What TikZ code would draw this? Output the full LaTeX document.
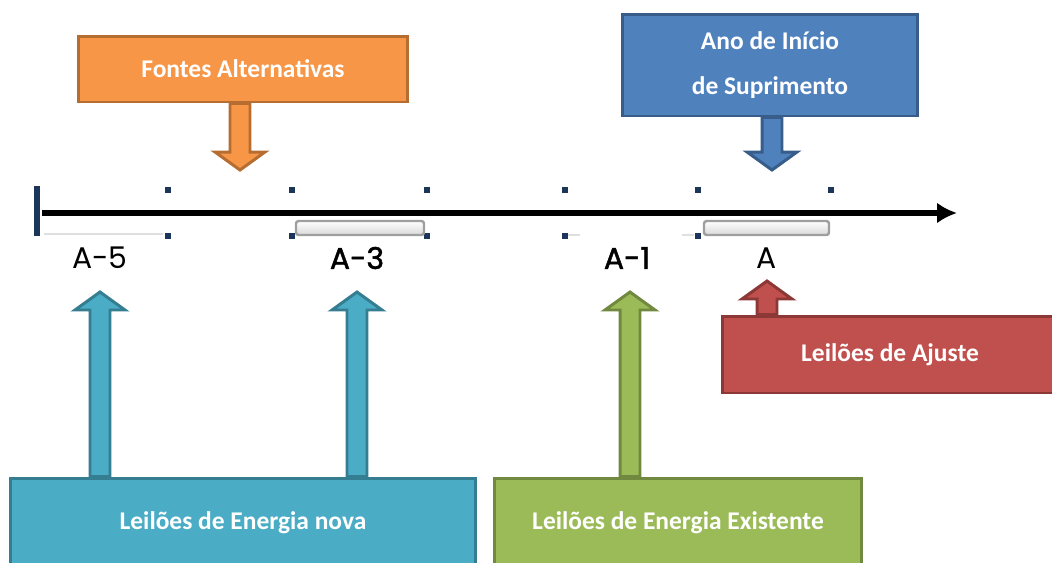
\documentclass[tikz,border=0pt]{standalone}
\usepackage{fontspec}
\setmainfont{Carlito}
\newfontfamily\gothic{Poppins}
\newfontfamily\gothicb[FakeBold=1.6]{Poppins}
\usetikzlibrary{calc,arrows.meta}

\definecolor{orangefill}{HTML}{F79646}
\definecolor{orangeline}{HTML}{B66D31}
\definecolor{bluefill}{HTML}{4F81BD}
\definecolor{blueline}{HTML}{385D8A}
\definecolor{tealfill}{HTML}{4BACC6}
\definecolor{tealline}{HTML}{357D91}
\definecolor{greenfill}{HTML}{9BBB59}
\definecolor{greenline}{HTML}{71893F}
\definecolor{redfill}{HTML}{C0504D}
\definecolor{redline}{HTML}{8C3836}
\definecolor{navy}{HTML}{1B3658}

% block arrow from a base point to a tip (vertical)
\newcommand{\blockarrow}[3]{%
  \draw[#1] let \p1=(#2), \p2=(#3), \n1={sign(\y2-\y1)} in
    ({\x1-0.2cm},\y1) -- ({\x1-0.2cm},{\y2-(\n1)*0.36cm})
    -- ({\x1-0.5cm},{\y2-(\n1)*0.36cm}) -- (\x1,\y2)
    -- ({\x1+0.5cm},{\y2-(\n1)*0.36cm}) -- ({\x1+0.2cm},{\y2-(\n1)*0.36cm})
    -- ({\x1+0.2cm},\y1) -- cycle;}

\begin{document}
\begin{tikzpicture}[x=0.02cm,y=-0.02cm,
  box/.style={draw,line width=1.7pt,text=white,align=center,
    font=\bfseries\fontsize{14.5}{25.5}\selectfont},
  barrow/.style={line width=1.7pt,miter limit=4},
  tick/.style={fill=navy},
  yearlabel/.style={font=\gothic\fontsize{17}{20}\selectfont},
  boldlabel/.style={font=\gothicb\fontsize{17}{20}\selectfont},
  bar/.style={rounded corners=1.5pt,draw=gray!75,line width=1.4pt,
    top color=white,bottom color=gray!30}]
 \useasboundingbox (0,0) rectangle (1052,562);
 \clip (0,0) rectangle (1052,562);

 % the time axis
 \coordinate (start) at (42,213);
 \coordinate (end) at (957,213);
 \draw[line width=3.6pt,-{Latex[length=0.4cm,width=0.42cm]}] (start) -- (end);
 \fill[navy] (34,186) rectangle (39.5,236);
 \draw[gray!25,line width=0.6pt] (44,234) -- (163,234)
   (568,235) -- (580,235) (682,235) -- (694,235);

 % small marks above and below the axis
 \foreach \x in {168,292,427,565,698,831}
   \fill[tick] (\x-2.8,187) rectangle (\x+2.8,193);
 \foreach \x in {168,292,427,565,698}
   \fill[tick] (\x-2.8,233) rectangle (\x+2.8,239);

 % the two grey bars
 \draw[bar] (296,221) rectangle (424,235);
 \draw[bar] (704,221) rectangle (829,235);

 % year labels
 \node[yearlabel] (a5) at (100,258) {A-5};
 \node[boldlabel] (a3) at (357,258) {A-3};
 \node[boldlabel] (a1) at (627,258) {A-1};
 \node[yearlabel] (a0) at (767,258) {A};

 % arrow tips
 \coordinate (tipF) at (240,170);
 \coordinate (tipS) at (772,170);
 \coordinate (tip5) at (100,292);
 \coordinate (tip3) at (357,292);
 \coordinate (tip1) at (630,292);
 \coordinate (tip0) at (767,281);

 % the boxes
 \path (243,69) node[box,fill=orangefill,draw=orangeline,
     minimum width=6.6cm,minimum height=1.32cm] (fontes) {Fontes Alternativas};
 \path (770,65) node[box,fill=bluefill,draw=blueline,
     minimum width=5.92cm,minimum height=2.04cm] (ano) {Ano de Início\\de Suprimento};
 \path (890,354.5) node[box,fill=redfill,draw=redline,
     minimum width=6.72cm,minimum height=1.54cm] (ajuste) {Leilões de Ajuste};
 \path (243,523) node[box,fill=tealfill,draw=tealline,
     minimum width=9.32cm,minimum height=1.8cm] (nova) {Leilões de Energia nova};
 \path (678,523) node[box,fill=greenfill,draw=greenline,
     minimum width=7.36cm,minimum height=1.8cm] (exist) {Leilões de Energia Existente};

 % block arrows
 \blockarrow{barrow,fill=orangefill,draw=orangeline}{tipF |- fontes.south}{tipF}
 \blockarrow{barrow,fill=bluefill,draw=blueline}{tipS |- ano.south}{tipS}
 \blockarrow{barrow,fill=tealfill,draw=tealline}{tip5 |- nova.north}{tip5}
 \blockarrow{barrow,fill=tealfill,draw=tealline}{tip3 |- nova.north}{tip3}
 \blockarrow{barrow,fill=greenfill,draw=greenline}{tip1 |- exist.north}{tip1}
 \blockarrow{barrow,fill=redfill,draw=redline}{tip0 |- ajuste.north}{tip0}

 % cover the arrow bases with the boxes again
 \path (fontes) node[box,fill=orangefill,draw=orangeline,
     minimum width=6.6cm,minimum height=1.32cm] {Fontes Alternativas};
 \path (ano) node[box,fill=bluefill,draw=blueline,
     minimum width=5.92cm,minimum height=2.04cm] {Ano de Início\\de Suprimento};
 \path (ajuste) node[box,fill=redfill,draw=redline,
     minimum width=6.72cm,minimum height=1.54cm] {Leilões de Ajuste};
 \path (nova) node[box,fill=tealfill,draw=tealline,
     minimum width=9.32cm,minimum height=1.8cm] {Leilões de Energia nova};
 \path (exist) node[box,fill=greenfill,draw=greenline,
     minimum width=7.36cm,minimum height=1.8cm] {Leilões de Energia Existente};
\end{tikzpicture}
\end{document}
